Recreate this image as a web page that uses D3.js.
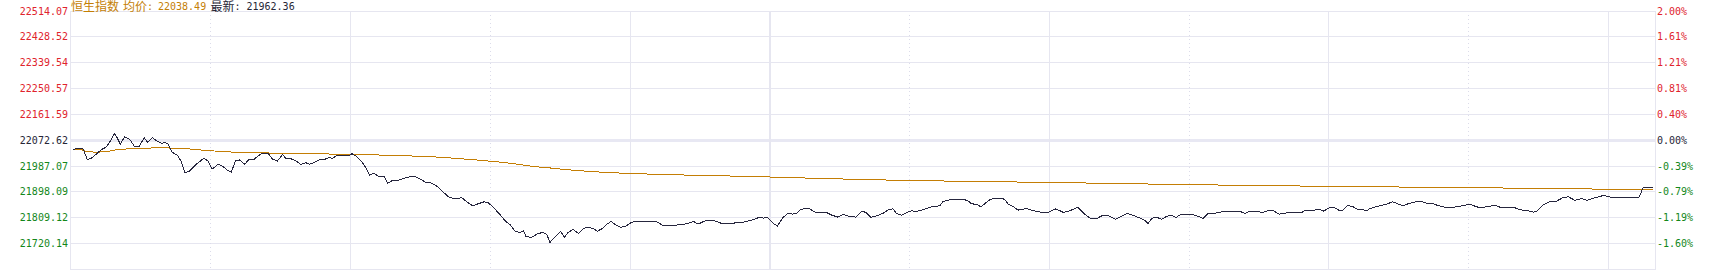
<!DOCTYPE html>
<html>
<head>
<meta charset="utf-8">
<script src="https://cdn.jsdelivr.net/npm/d3@7/dist/d3.min.js"></script>
<style>
    html, body { margin: 0; padding: 0; background: #ffffff; }
    svg { display: block; }
</style>
</head>
<body>
<div class="intradayGraph"></div>
<script>
// Hang Seng intraday, minutes counted on the trading clock (09:30 = 0, lunch removed)
const prevClose = 22072.62;

const priceMinutes = [
    0.4, 2.2, 2.6, 3.5, 4.4, 5.4, 6.5, 7.6, 8.3, 9.4,
    10.6, 11.5, 12.6, 13.7, 14.6, 15.7, 16.4, 17.5, 18.3, 19.5,
    20.2, 20.8, 21.7, 22.8, 23.7, 24.4, 25.3, 26.9, 28.5, 29.4,
    30.3, 31.6, 32.6, 33.5, 34.4, 35.3, 36.2, 37.3, 38.2, 39.2,
    40.1, 41.1, 42.3, 43.2, 44.3, 45.4, 46.2, 47.2, 48.3, 49.3,
    50.4, 51.2, 52.3, 53.2, 54.3, 55.3, 56.2, 57.1, 57.9, 59.5,
    60.3, 61.2, 62.3, 63.3, 64.1, 65.0, 66.0, 67.2, 68.0, 68.9,
    70.2, 72.1, 73.8, 74.7, 76.1, 77.3, 78.5, 79.8, 81.2, 82.3,
    83.9, 85.1, 86.2, 87.4, 88.7, 89.6, 91.0, 92.3, 93.4, 94.2,
    95.3, 96.4, 97.1, 97.7, 98.9, 100.0, 101.2, 102.1, 102.8, 103.9,
    105.1, 105.9, 106.7, 107.8, 108.9, 109.8, 110.7, 112.0, 113.0, 114.1,
    115.0, 115.9, 117.0, 118.0, 119.1, 120.3, 121.4, 124.3, 125.7, 127.1,
    129.3, 130.7, 132.2, 133.6, 134.6, 136.1, 137.9, 139.9, 142.2, 144.3,
    146.4, 147.7, 148.6, 149.5, 150.6, 151.6, 152.8, 153.8, 154.9, 155.8,
    156.5, 157.5, 158.5, 159.7, 162.1, 163.3, 164.6, 165.8, 166.8, 168.5,
    169.7, 170.6, 171.7, 172.9, 174.3, 175.3, 176.4, 177.2, 178.3, 179.4,
    180.4, 181.5, 182.6, 183.3, 184.4, 185.4, 186.5, 187.2, 188.7, 189.7,
    191.5, 192.6, 193.3, 194.4, 195.3, 196.5, 197.4, 198.7, 199.8, 200.5,
    201.2, 202.3, 203.3, 204.1, 205.1, 206.2, 208.0, 209.8, 211.4, 213.0,
    214.4, 216.1, 217.5, 218.7, 220.2, 221.6, 222.6, 224.2, 225.5, 226.8,
    228.0, 229.1, 230.4, 231.2, 232.0, 233.0, 234.1, 235.0, 236.1, 237.2,
    238.2, 240.5, 241.8, 243.0, 244.1, 245.5, 247.3, 248.8, 249.8, 250.9,
    252.0, 253.0, 254.8, 255.9, 257.0, 258.1, 259.3, 260.6, 262.0, 264.2,
    264.9, 267.0, 267.9, 268.8, 270.5, 271.3, 272.4, 273.0, 274.0, 275.2,
    276.0, 277.2, 278.0, 278.8, 279.9, 281.0, 282.4, 283.7, 284.9, 286.0,
    287.2, 288.5, 289.7, 291.0, 292.4, 293.3, 294.7, 296.3, 297.6, 299.0,
    300.3, 301.3, 302.4, 303.9, 305.6, 306.7, 309.6, 310.6, 311.7, 312.8,
    313.9, 314.7, 316.0, 317.4, 318.9, 320.2, 321.4, 322.8, 324.3, 325.3,
    326.7, 328.2, 329.1, 330.3, 336.6, 337.5, 339.5
];

const priceValues = [
    22041.8, 22045.2, 22042.8, 22006.2, 22012.0, 22024.7, 22040.4, 22049.7, 22065.8, 22096.6,
    22058.9, 22084.9, 22076.0, 22049.7, 22050.7, 22081.5, 22065.8, 22081.5, 22071.3, 22062.4,
    22064.4, 22060.0, 22031.5, 22022.3, 21999.4, 21963.1, 21965.1, 21990.5, 22011.0, 22001.8,
    21974.4, 21990.5, 21983.6, 21971.0, 21963.1, 22002.8, 22005.2, 21990.5, 22007.6, 22005.2,
    22018.9, 22028.1, 22028.1, 22008.6, 22001.8, 22023.3, 22009.6, 22009.6, 22001.8, 21990.5,
    21995.9, 21990.5, 21997.3, 22005.2, 22006.2, 22013.1, 22011.0, 22021.3, 22018.9, 22018.9,
    22026.7, 22018.9, 22001.8, 21978.8, 21953.9, 21959.7, 21949.4, 21949.4, 21925.5, 21934.4,
    21935.7, 21946.0, 21949.4, 21942.6, 21928.9, 21926.5, 21916.2, 21896.7, 21877.5, 21872.8,
    21876.2, 21860.4, 21848.8, 21855.6, 21862.5, 21859.1, 21837.5, 21814.6, 21794.0, 21785.2,
    21762.2, 21757.8, 21763.2, 21742.7, 21741.7, 21752.0, 21757.8, 21752.0, 21723.6, 21742.7,
    21762.2, 21740.7, 21757.8, 21768.0, 21754.4, 21768.0, 21775.9, 21771.5, 21762.2, 21771.5,
    21785.2, 21795.4, 21782.8, 21774.9, 21779.3, 21792.0, 21796.4, 21795.4, 21794.0, 21781.7,
    21780.4, 21785.2, 21787.2, 21795.4, 21786.2, 21797.5, 21798.8, 21787.2, 21789.6, 21793.0,
    21800.9, 21809.1, 21806.7, 21809.1, 21790.6, 21779.3, 21807.7, 21822.8, 21820.4, 21822.8,
    21834.1, 21840.9, 21838.5, 21827.2, 21826.2, 21817.0, 21810.1, 21819.4, 21813.6, 21810.1,
    21830.7, 21826.2, 21809.1, 21814.6, 21822.8, 21834.1, 21838.5, 21822.8, 21815.9, 21826.2,
    21831.7, 21829.6, 21834.1, 21837.5, 21844.3, 21846.7, 21848.8, 21863.9, 21869.3, 21871.7,
    21871.7, 21864.9, 21855.6, 21853.6, 21845.4, 21860.4, 21871.7, 21872.8, 21875.2, 21868.3,
    21853.6, 21845.4, 21834.1, 21836.5, 21839.9, 21833.1, 21827.2, 21826.2, 21838.5, 21826.2,
    21831.7, 21844.3, 21821.4, 21806.7, 21805.7, 21817.0, 21815.9, 21803.3, 21812.5, 21822.8,
    21815.9, 21809.1, 21799.9, 21788.6, 21805.7, 21810.1, 21802.3, 21811.2, 21817.0, 21809.1,
    21819.4, 21819.4, 21813.6, 21805.7, 21822.8, 21822.8, 21829.6, 21828.3, 21830.7, 21829.6,
    21822.8, 21829.6, 21828.3, 21826.2, 21833.1, 21831.7, 21820.4, 21823.8, 21826.2, 21826.2,
    21833.1, 21834.1, 21837.5, 21830.7, 21844.3, 21840.9, 21831.7, 21834.1, 21850.2, 21845.4,
    21837.5, 21837.5, 21830.7, 21839.2, 21845.0, 21848.8, 21854.6, 21862.5, 21854.6, 21848.8,
    21857.0, 21861.5, 21863.9, 21857.0, 21855.6, 21850.2, 21844.3, 21843.3, 21845.4, 21850.2,
    21853.6, 21847.8, 21842.0, 21845.4, 21850.2, 21844.3, 21844.3, 21837.5, 21833.1, 21831.7,
    21827.2, 21830.7, 21851.2, 21862.5, 21864.9, 21876.2, 21879.6, 21867.3, 21874.1, 21867.3,
    21874.1, 21881.0, 21884.4, 21878.6, 21878.6, 21912.8, 21912.8
];

const avgMinutes = [
    0.4, 2.1, 3.0, 5.2, 7.5, 9.9, 12.9, 19.5, 25.5, 28.5,
    31.6, 35.4, 45.3, 59.2, 68.7, 75.1, 79.6, 82.2, 85.2, 87.8,
    90.1, 92.5, 94.4, 95.9, 97.4, 98.9, 101.1, 103.7, 105.6, 108.0,
    111.0, 114.4, 119.1, 125.6, 134.4, 144.7, 152.6, 159.7, 168.7, 177.9,
    191.9, 208.4, 222.4, 235.7, 251.6, 270.0, 292.3, 315.3, 332.5, 339.6
];

const avgValues = [
    22041.8, 22041.8, 22036.0, 22031.5, 22033.6, 22040.4, 22043.9, 22047.3, 22042.8, 22038.4,
    22035.0, 22031.5, 22028.1, 22024.7, 22021.3, 22017.8, 22014.4, 22011.0, 22007.6, 22004.2,
    22000.7, 21997.3, 21993.9, 21990.5, 21987.0, 21983.6, 21980.2, 21976.8, 21973.4, 21969.9,
    21966.5, 21963.1, 21959.7, 21956.3, 21952.8, 21949.4, 21946.0, 21942.6, 21939.1, 21935.7,
    21932.3, 21928.9, 21925.5, 21922.0, 21918.6, 21915.2, 21911.8, 21908.3, 21904.9, 21904.9
];

const priceTickLabels = ["22514.07", "22428.52", "22339.54", "22250.57", "22161.59",
    "22072.62", "21987.07", "21898.09", "21809.12", "21720.14"];
const pctTickLabels = ["2.00%", "1.61%", "1.21%", "0.81%", "0.40%",
    "0.00%", "-0.39%", "-0.79%", "-1.19%", "-1.60%"];

const dottedTimes = ["10:00", "11:00", "13:30", "14:30", "15:30"];
const solidTimes = ["10:30", "11:30", "14:00", "15:00", "16:00"];
const middayTime = "12:00";

const headerName = "恒生指数";
const headerAvg = "22038.49";
const headerLast = "21962.36";

class IntradayGraph {
    constructor() {
        this.width = 1717;
        this.height = 270;
        this.plot = { left: 71, right: 1655, top: 11, bottom: 269.5 };
        this.colors = {
            grid: "#e6e6f0",
            dotted: "#dcdcea",
            zero: "#e8e8f3",
            price: "#26263e",
            avg: "#c47e04",
            up: "#e0232c",
            down: "#13871a",
            flat: "#262636"
        };
    }

    // "HH:MM" -> minutes on the trading clock
    toMinute(t) {
        const [h, m] = t.split(":").map(Number);
        let v = h * 60 + m - 570;
        if (v > 150) v -= 60;
        return v;
    }

    draw() {
        const p = this.plot;
        const c = this.colors;
        const crisp = v => Math.floor(v) + 0.5;

        const x = d3.scaleLinear().domain([0, 340]).range([p.left, p.right]);
        const y = d3.scaleLinear()
            .domain([prevClose * 0.98, prevClose * 1.02])
            .range([p.bottom, p.top]);

        const [yMin, yMax] = y.domain();
        const levels = d3.range(11).map(i => yMax - i * (yMax - yMin) / 10);

        const svg = d3.select(".intradayGraph").html("")
            .append("svg")
            .attr("width", this.width)
            .attr("height", this.height);

        // horizontal grid
        const grid = svg.append("g").attr("shape-rendering", "crispEdges");
        grid.selectAll("line.h")
            .data(levels)
            .join("line")
            .attr("class", "h")
            .attr("x1", p.left - 0.5)
            .attr("x2", p.right + 0.5)
            .attr("y1", d => crisp(y(d)))
            .attr("y2", d => crisp(y(d)))
            .attr("stroke", (d, i) => i === 5 ? c.zero : c.grid)
            .attr("stroke-width", (d, i) => i === 5 ? 3 : 1);

        // vertical grid
        grid.selectAll("line.dot")
            .data(dottedTimes)
            .join("line")
            .attr("class", "dot")
            .attr("x1", d => crisp(x(this.toMinute(d))))
            .attr("x2", d => crisp(x(this.toMinute(d))))
            .attr("y1", p.top)
            .attr("y2", p.bottom)
            .attr("stroke", c.dotted)
            .attr("stroke-dasharray", "1,3");

        grid.selectAll("line.solid")
            .data(solidTimes)
            .join("line")
            .attr("class", "solid")
            .attr("x1", d => crisp(x(this.toMinute(d))))
            .attr("x2", d => crisp(x(this.toMinute(d))))
            .attr("y1", p.top)
            .attr("y2", p.bottom)
            .attr("stroke", c.grid);

        grid.append("line")
            .attr("x1", Math.round(x(this.toMinute(middayTime))))
            .attr("x2", Math.round(x(this.toMinute(middayTime))))
            .attr("y1", p.top)
            .attr("y2", p.bottom)
            .attr("stroke", c.grid)
            .attr("stroke-width", 2);

        // plot border
        grid.append("rect")
            .attr("x", p.left - 0.5)
            .attr("y", crisp(p.top))
            .attr("width", p.right - p.left + 1)
            .attr("height", Math.floor(p.bottom) - Math.floor(p.top))
            .attr("fill", "none")
            .attr("stroke", c.grid);

        // lines
        const line = d3.line()
            .x(d => x(d[0]))
            .y(d => y(d[1]));

        svg.append("path")
            .datum(d3.zip(avgMinutes, avgValues))
            .attr("d", line)
            .attr("fill", "none")
            .attr("stroke", c.avg)
            .attr("stroke-width", 1)
            .attr("shape-rendering", "crispEdges");

        svg.append("path")
            .datum(d3.zip(priceMinutes, priceValues))
            .attr("d", line)
            .attr("fill", "none")
            .attr("stroke", c.price)
            .attr("stroke-width", 1)
            .attr("shape-rendering", "crispEdges");

        // axis labels
        const labelColor = i => i < 5 ? c.up : (i === 5 ? c.flat : c.down);
        const labels = svg.append("g")
            .style("font", "10px 'DejaVu Sans Mono', monospace");

        labels.selectAll("text.left")
            .data(priceTickLabels)
            .join("text")
            .attr("class", "left")
            .attr("x", p.left - 3)
            .attr("y", (d, i) => y(levels[i]) + 0.5)
            .attr("text-anchor", "end")
            .attr("dominant-baseline", "middle")
            .attr("fill", (d, i) => labelColor(i))
            .text(d => d);

        labels.selectAll("text.right")
            .data(pctTickLabels)
            .join("text")
            .attr("class", "right")
            .attr("x", p.right + 2)
            .attr("y", (d, i) => y(levels[i]) + 0.5)
            .attr("dominant-baseline", "middle")
            .attr("fill", (d, i) => labelColor(i))
            .text(d => d);

        // header
        const cjk = "12px 'Noto Sans CJK SC', sans-serif";
        const mono = "10px 'DejaVu Sans Mono', monospace";
        const header = [
            { text: headerName, x: 71, y: 11, font: cjk, color: c.avg },
            { text: "均价", x: 123, y: 11, font: cjk, color: c.avg },
            { text: ":", x: 147, y: 9.5, font: mono, color: c.avg },
            { text: headerAvg, x: 158, y: 9.5, font: mono, color: c.avg },
            { text: "最新", x: 210.5, y: 11, font: cjk, color: c.flat },
            { text: ":", x: 234.5, y: 9.5, font: mono, color: c.flat },
            { text: headerLast, x: 246.5, y: 9.5, font: mono, color: c.flat }
        ];
        svg.append("g")
            .selectAll("text")
            .data(header)
            .join("text")
            .attr("x", d => d.x)
            .attr("y", d => d.y)
            .style("font", d => d.font)
            .attr("fill", d => d.color)
            .text(d => d.text);
    }
}

new IntradayGraph().draw();
</script>
</body>
</html>
